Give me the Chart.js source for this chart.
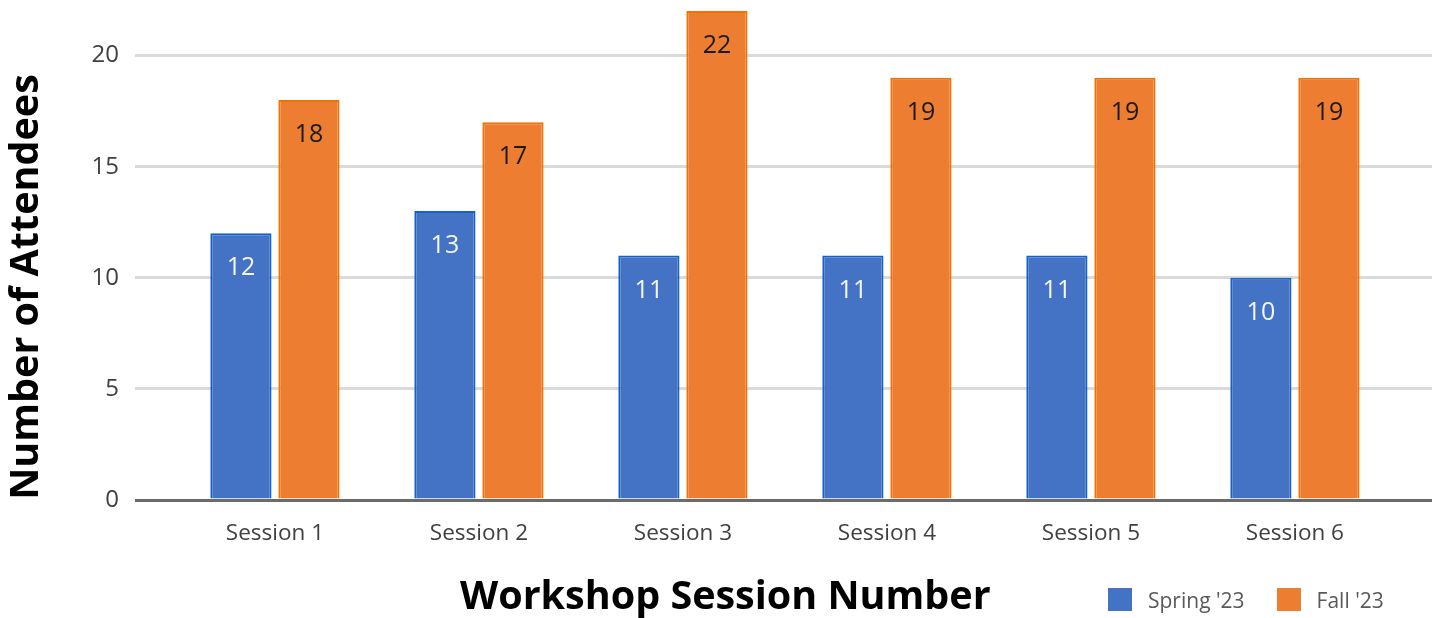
<!DOCTYPE html>
<html>
<head>
<meta charset="utf-8">
<title>Workshop attendance</title>
<script src="https://cdn.jsdelivr.net/npm/chart.js@4.4.1/dist/chart.umd.min.js"></script>
<style>
  html, body { margin: 0; padding: 0; background: #fff; }
  #wrap { position: relative; width: 1439px; height: 618px; overflow: hidden; font-family: 'Open Sans', sans-serif; }
  #chartBox { position: absolute; left: 0; top: 0; width: 1439px; height: 618px; }
  .xTitle { position: absolute; left: 460px; top: 575px; font-size: 39.5px; line-height: 39.5px; font-weight: 700; color: #000; white-space: nowrap; }
  .yTitle { position: absolute; left: -207px; top: 267px; width: 460px; height: 40px; font-size: 39.5px; line-height: 40px; font-weight: 700; color: #000; text-align: center; white-space: nowrap; transform: rotate(-90deg); }
  #legend { position: absolute; left: 1108px; top: 588px; height: 23px; display: flex; align-items: center; font-size: 21px; color: #595959; }
  #legend .sw { width: 24px; height: 23px; margin-right: 16px; }
  #legend .lbl { margin-right: 32px; white-space: nowrap; }
</style>
</head>
<body>
<div id="wrap">
  <div id="chartBox"><canvas id="chart"></canvas></div>
  <div class="yTitle">Number of Attendees</div>
  <div class="xTitle">Workshop Session Number</div>
  <div id="legend"></div>
</div>
<script>
// data
const sessions = ['Session 1', 'Session 2', 'Session 3', 'Session 4', 'Session 5', 'Session 6'];
const sessionNums = [1, 2, 3, 4, 5, 6];
const spring23 = [12, 13, 11, 11, 11, 10];
const fall23 = [18, 17, 22, 19, 19, 19];
const seriesNames = ["Spring '23", "Fall '23"];
const yTicks = [0, 5, 10, 15, 20];

const fills = ['#4472C4', '#ED7D31'];
const edges = ['#1462C8', '#F07300'];
const labelColors = ['#F4F7FC', '#1A1A1A'];

Chart.defaults.font.family = "'Open Sans', sans-serif";
Chart.defaults.animation = false;

// value labels inside the top of each bar
const barLabels = {
  id: 'barLabels',
  afterDatasetsDraw(chart) {
    const ctx = chart.ctx;
    ctx.save();
    ctx.font = "25px 'Open Sans', sans-serif";
    ctx.textAlign = 'center';
    ctx.textBaseline = 'middle';
    chart.data.datasets.forEach((ds, di) => {
      const meta = chart.getDatasetMeta(di);
      ctx.fillStyle = labelColors[di];
      meta.data.forEach((bar, i) => {
        ctx.fillText(String(ds.data[i].y), bar.x, bar.y + 35);
      });
    });
    ctx.restore();
  }
};

const toPoints = vals => sessionNums.map((n, i) => ({ x: n, y: vals[i] }));

new Chart(document.getElementById('chart'), {
  type: 'bar',
  data: {
    datasets: [spring23, fall23].map((vals, i) => ({
      label: seriesNames[i],
      data: toPoints(vals),
      backgroundColor: fills[i],
      borderColor: edges[i],
      borderWidth: { left: 2, right: 2, top: 2, bottom: 0 },
      borderSkipped: 'bottom',
      categoryPercentage: 0.667,
      barPercentage: 0.9
    }))
  },
  options: {
    responsive: true,
    maintainAspectRatio: false,
    layout: { padding: { left: 0, right: 7, top: 0, bottom: 0 } },
    plugins: { legend: { display: false }, tooltip: { enabled: false } },
    scales: {
      x: {
        type: 'linear',
        offset: false,
        min: 0.314,
        max: 6.672,
        afterBuildTicks: s => { s.ticks = sessionNums.map(v => ({ value: v })); },
        afterFit: s => { s.height = 118; s.paddingLeft = 0; s.paddingRight = 0; },
        grid: { display: false, offset: false },
        border: { display: false },
        ticks: {
          padding: 12,
          color: '#404040',
          font: { size: 22.5 },
          maxRotation: 0,
          autoSkip: false,
          callback: v => sessions[sessionNums.indexOf(v)]
        }
      },
      y: {
        min: 0,
        max: 22.5,
        afterBuildTicks: s => { s.ticks = yTicks.map(v => ({ value: v })); },
        afterFit: s => { s.width = 135; s.paddingTop = 0; s.paddingBottom = 0; },
        border: { display: false },
        grid: {
          drawTicks: false,
          lineWidth: 3,
          color: c => c.tick && c.tick.value === 0 ? '#6B6B6B' : '#DADADA'
        },
        ticks: {
          padding: 16,
          color: '#404040',
          font: { size: 24 },
          callback: v => String(v)
        }
      }
    }
  },
  plugins: [barLabels]
});

// legend
const legend = document.getElementById('legend');
seriesNames.forEach((name, i) => {
  const sw = document.createElement('span');
  sw.className = 'sw';
  sw.style.background = fills[i];
  const lbl = document.createElement('span');
  lbl.className = 'lbl';
  lbl.textContent = name;
  legend.appendChild(sw);
  legend.appendChild(lbl);
});
</script>
</body>
</html>
